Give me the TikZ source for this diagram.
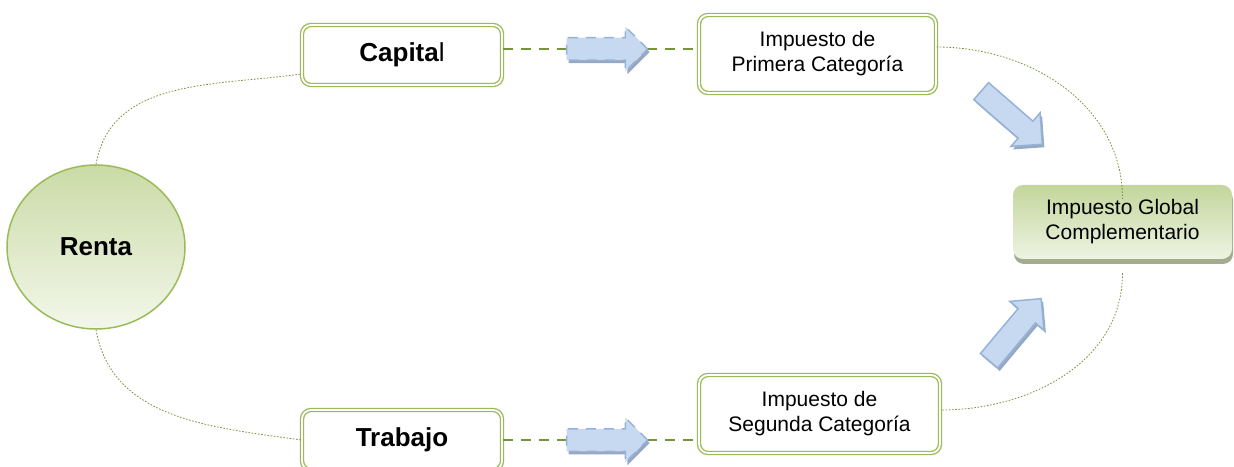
\documentclass[tikz,border=0pt]{standalone}
\usepackage{fontspec}
\setmainfont{Liberation Sans}
\usetikzlibrary{shapes.geometric,shapes.arrows,shadows}
\definecolor{boxgreen}{HTML}{9BBB59}
\definecolor{dashgreen}{HTML}{77933C}
\definecolor{rentatop}{HTML}{CADBA6}
\definecolor{rentabot}{HTML}{F3F7EB}
\definecolor{globaltop}{HTML}{C3D69B}
\definecolor{globalbot}{HTML}{EEF3E3}
\definecolor{globalshadow}{HTML}{A3AC8F}
\definecolor{arrowfill}{HTML}{C6D9F1}
\definecolor{arrowedge}{HTML}{95B3D7}
\definecolor{arrowshadow}{HTML}{8E9FBB}
\begin{document}
\begin{tikzpicture}[x=1pt, y=1pt,
    bigfont/.style={font=\fontsize{26}{30}\selectfont},
    smallfont/.style={font=\fontsize{21}{25}\selectfont},
    sourcebox/.style={rectangle, rounded corners=9pt, draw=boxgreen, double=white, double distance=1.8pt,
        line width=1.3pt, fill=white, minimum width=200, minimum height=60, inner sep=0, bigfont},
    taxbox/.style={rectangle, rounded corners=9pt, draw=boxgreen, double=white, double distance=1.8pt,
        line width=1.3pt, fill=white, minimum width=237, minimum height=78, inner sep=0, align=center, smallfont},
    flowarrow/.style={single arrow, draw=arrowedge, fill=arrowfill, line width=1.5pt, inner xsep=0,
        inner ysep=10.5pt, minimum height=81, single arrow head extend=11pt,
        drop shadow={shadow xshift=2pt, shadow yshift=-3pt, fill=arrowshadow, opacity=.9}},
    dashlink/.style={dashgreen, line width=2.6pt, dash pattern=on 10pt off 8pt},
    loopline/.style={dashgreen, line width=.8pt, dash pattern=on 1.6pt off 1.6pt}]
\useasboundingbox (0,0) rectangle (1234,466);

\node[ellipse, draw=boxgreen, line width=1.5pt, top color=rentatop, bottom color=rentabot,
    minimum width=178, minimum height=164, bigfont] (renta) at (96,219) {\bfseries Renta};

\node[sourcebox] (capital) at (402,411) {{\bfseries Capita}l};
\node[sourcebox] (trabajo) at (402,26) {\bfseries Trabajo};

\node[taxbox] (primera) at (817.5,412) {Impuesto de\\Primera Categoría};
\node[taxbox, minimum width=241] (segunda) at (819.5,52) {Impuesto de\\Segunda Categoría};

\node[rectangle, rounded corners=10pt, top color=globaltop, bottom color=globalbot, minimum width=219,
    minimum height=74, align=center, smallfont,
    drop shadow={shadow xshift=1pt, shadow yshift=-5pt, fill=globalshadow, opacity=1}]
    (global) at (1122.5,244) {Impuesto Global\\Complementario};

% flechas
\coordinate (capout) at ([yshift=6pt]capital.east);
\draw[dashlink] (capout) -- node[flowarrow, pos=.505] (arrowcap) {} (capout -| primera.west);
\draw[dashlink] (trabajo.east) -- node[flowarrow, pos=.505] (arrowtrab) {} (trabajo.east -| segunda.west);
\node[flowarrow, rotate=-41] (arrowprim) at (1007.5,352) {};
\node[flowarrow, rotate=50] (arrowseg) at (1011.5,132) {};

% lazo punteado
\draw[loopline] (renta.north) to[out=80, in=188] ([yshift=-19pt]capital.west);
\draw[loopline] (renta.south) to[out=-80, in=172] (trabajo.west);
\draw[loopline] ([yshift=7pt]primera.east) to[out=0, in=90] ([yshift=-14pt]global.north);
\draw[loopline] ([yshift=-14pt]global.south) to[out=-90, in=0] ([yshift=4pt]segunda.east);
\end{tikzpicture}
\end{document}
